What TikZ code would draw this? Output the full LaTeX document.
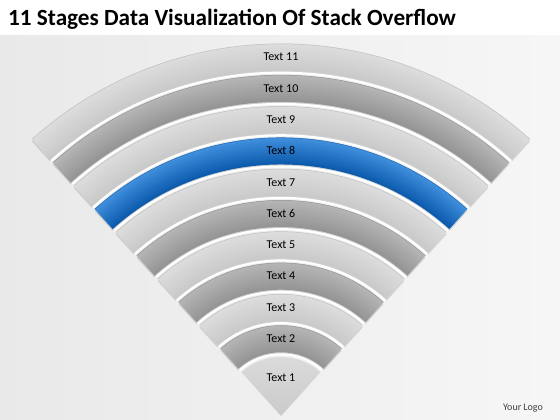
\documentclass[tikz,border=0pt]{standalone}
\usepackage{fontspec}
\setmainfont{Carlito}
\usetikzlibrary{positioning}
\definecolor{BandLight}{HTML}{DCDCDC}
\definecolor{BandLightIn}{HTML}{CACACA}
\definecolor{BandDark}{HTML}{B4B4B4}
\definecolor{BandDarkIn}{HTML}{959595}
\definecolor{BandBlue}{HTML}{3E8EDC}
\definecolor{BandBlueIn}{HTML}{0D5BAD}
\definecolor{PageGray}{HTML}{E9E9E9}
\tikzset{
	lbl/.style={font=\fontsize{12}{13}\selectfont,text=black,inner sep=1pt},
	gap/.style={draw=white,line width=2pt},
}

\begin{document}
\begin{tikzpicture}[x=1pt,y=1pt]
	\useasboundingbox (0,0) rectangle (560,420);
	% page
	\fill[white] (0,0) rectangle (560,420);
	\shade[left color=PageGray,right color=PageGray!40] (0,0) rectangle (560,384);
	\node[anchor=base west,font=\bfseries\fontsize{23.2}{27}\selectfont,inner sep=0] (title) at (8,394) {11 Stages Data Visualization Of Stack Overflow};
	\node[font=\fontsize{10}{11}\selectfont,text=black!75] (logo) at (523,12) {Your Logo};
	\coordinate (apex) at (281,4);
	% bands 2..11
	\foreach \k/\ci/\co in {2/BandDarkIn/BandDark,3/BandLightIn/BandLight,4/BandDarkIn/BandDark,
		5/BandLightIn/BandLight,6/BandDarkIn/BandDark,7/BandLightIn/BandLight,8/BandBlueIn/BandBlue,
		9/BandLightIn/BandLight,10/BandDarkIn/BandDark,11/BandLightIn/BandLight}{
		\pgfmathsetmacro\ri{64+(\k-2)*31.3}
		\pgfmathsetmacro\ro{\ri+26.5}
		\fill[black,opacity=.13] ([shift={(48:\ri)},yshift=-2]apex) arc[start angle=48,end angle=132,radius=\ri]
			-- ([shift={(132:\ro)},yshift=-2]apex) arc[start angle=132,end angle=48,radius=\ro] -- cycle;
		\foreach \s in {0,...,13}{
			\pgfmathsetmacro\rs{\ri+(\s+0.5)*26.5/14}
			\pgfmathsetmacro\pc{\s*100/13}
			\draw[\co!\pc!\ci,line width=2.4] ([shift={(48:\rs)}]apex) arc[start angle=48,end angle=132,radius=\rs];
		}
		\draw[\ci!80!black,line width=.5,opacity=.5] ([shift={(48:\ro)}]apex) arc[start angle=48,end angle=132,radius=\ro];
		\draw[gap] ([shift={(48:\ri-2.3)}]apex) arc[start angle=48,end angle=132,radius=\ri-2.3];
		\node[lbl] (t\k) at ([yshift=\ri+13.25]apex) {Text \k};
	}
	% stage 1
	\shade[top color=BandLight,bottom color=BandLightIn] (apex) -- ([shift={(48:59)}]apex)
		arc[start angle=48,end angle=132,radius=59] -- cycle;
	\node[lbl] (t1) at ([yshift=38]apex) {Text 1};
\end{tikzpicture}
\end{document}
